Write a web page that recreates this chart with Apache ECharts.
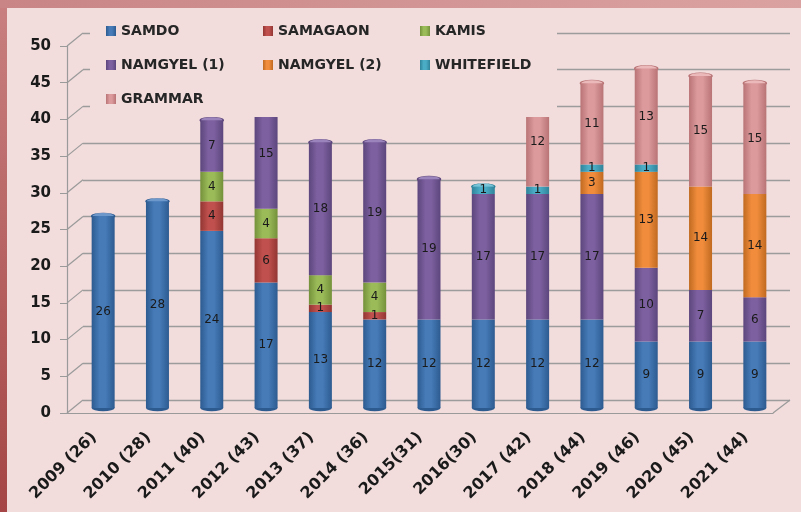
<!DOCTYPE html>
<html>
<head>
<meta charset="utf-8">
<script src="https://cdn.jsdelivr.net/npm/echarts@6/dist/echarts.min.js"></script>
<style>
html,body{margin:0;padding:0;}
#frame{position:absolute;left:0;top:0;width:801px;height:512px;
background:
 linear-gradient(#f2dcdc,#f2dcdc) 7px 8px / 794px 504px no-repeat,
 linear-gradient(to right,#c98585,#dba2a2) 0 0 / 801px 8px no-repeat,
 linear-gradient(to bottom,#c98080,#a54545) 0 0 / 7px 512px no-repeat;}
#chart{position:absolute;left:0;top:0;width:801px;height:512px;}
</style>
</head>
<body>
<div id="frame"></div>
<div id="chart"></div>
<script>
const categories = ['2009 (26)','2010 (28)','2011 (40)','2012 (43)','2013 (37)','2014 (36)','2015(31)','2016(30)','2017 (42)','2018 (44)','2019 (46)','2020 (45)','2021 (44)'];
const seriesNames = ['SAMDO','SAMAGAON','KAMIS','NAMGYEL (1)','NAMGYEL (2)','WHITEFIELD','GRAMMAR'];
const samdo      = [26,28,24,17,13,12,12,12,12,12, 9, 9, 9];
const samagaon   = [ 0, 0, 4, 6, 1, 1, 0, 0, 0, 0, 0, 0, 0];
const kamis      = [ 0, 0, 4, 4, 4, 4, 0, 0, 0, 0, 0, 0, 0];
const namgyel1   = [ 0, 0, 7,15,18,19,19,17,17,17,10, 7, 6];
const namgyel2   = [ 0, 0, 0, 0, 0, 0, 0, 0, 0, 3,13,14,14];
const whitefield = [ 0, 0, 0, 0, 0, 0, 0, 1, 1, 1, 1, 0, 0];
const grammar    = [ 0, 0, 0, 0, 0, 0, 0, 0,12,11,13,15,15];
const yTicks = [0,5,10,15,20,25,30,35,40,45,50];

const allData = [samdo,samagaon,kamis,namgyel1,namgyel2,whitefield,grammar];
const baseColors = ['#467bb8','#c0504d','#9bbb59','#7d60a0','#f08c3c','#4bacc6','#dc9a9c'];
const darkColors = ['#2d5b90','#923633','#74913a','#5c467c','#c06a20','#2f8399','#b87375'];
const lightColors = ['#6d98cc','#d57a77','#b4d07e','#9b84bb','#f8b07a','#78c4d8','#ebb9ba'];

function grad(i){
  return new echarts.graphic.LinearGradient(0,0,1,0,[
    {offset:0,color:darkColors[i]},
    {offset:0.35,color:baseColors[i]},
    {offset:0.6,color:baseColors[i]},
    {offset:1,color:darkColors[i]}
  ]);
}

const capData = categories.map((c,i)=>{
  let total=0, top=0;
  allData.forEach((arr,s)=>{ total+=arr[i]; if(arr[i]>0) top=s; });
  return [i,total,top];
});

const chart = echarts.init(document.getElementById('chart'), null, {renderer:'canvas'});
const fontB = 'DejaVu Sans';

const barSeries = seriesNames.map((name,s)=>({
  name:name, type:'bar', stack:'total', xAxisIndex:2, yAxisIndex:2,
  barWidth:23, data:allData[s],
  itemStyle:{color:grad(s)},
  label:{show:true, position:'inside', fontFamily:fontB, fontSize:12, color:'#1a1a1a',
    formatter:p=> p.value ? String(p.value) : ''},
  emphasis:{disabled:true}
}));

const option = {
  animation:false,
  backgroundColor:'transparent',
  legend:{
    data:seriesNames, left:90, top:14, width:455, z:10,
    padding:[10,0,11,16], backgroundColor:'#f2dcdc',
    icon:'rect', itemWidth:10, itemHeight:10, itemGap:20,
    textStyle:{fontFamily:fontB, fontWeight:'bold', fontSize:14, color:'#262626', width:122, lineHeight:14}
  },
  grid:[
    {left:67, right:28, top:46, bottom:99},
    {left:83, right:11, top:33, bottom:112},
    {left:76, right:19, top:39, bottom:104}
  ],
  xAxis:[
    {type:'category', gridIndex:0, data:categories,
     axisLine:{lineStyle:{color:'#9a9a9a',width:1.2}},
     axisTick:{length:6, lineStyle:{color:'#9a9a9a'}},
     axisLabel:{rotate:45, margin:22, fontFamily:fontB, fontWeight:'bold', fontSize:16, color:'#1a1a1a', interval:0}},
    {type:'category', gridIndex:1, data:categories, show:false},
    {type:'category', gridIndex:2, data:categories, show:false}
  ],
  yAxis:[
    {type:'value', gridIndex:0, min:0, max:50, interval:5,
     axisLine:{show:true, lineStyle:{color:'#9a9a9a',width:1.2}},
     axisTick:{show:true, length:7, lineStyle:{color:'#9a9a9a'}},
     splitLine:{show:false},
     axisLabel:{margin:16, fontFamily:fontB, fontWeight:'bold', fontSize:15, color:'#1a1a1a'}},
    {type:'value', gridIndex:1, min:0, max:50, interval:5,
     axisLine:{show:false}, axisTick:{show:false}, axisLabel:{show:false},
     splitLine:{show:true, lineStyle:{color:'#9c9c9c', width:1.4}}},
    {type:'value', gridIndex:2, min:0, max:50, interval:5, show:false, splitLine:{show:false}}
  ],
  series:[
    {type:'custom', xAxisIndex:0, yAxisIndex:0, silent:true, z:1,
     data:yTicks.map(v=>[0,v]),
     renderItem:(params,api)=>{
       const cs = params.coordSys;
       const y = api.coord([0, api.value(1)])[1];
       const st = {stroke:'#9a9a9a', lineWidth:1.2};
       const children = [{type:'line', shape:{x1:cs.x, y1:y, x2:cs.x+16, y2:y-13}, style:st}];
       if(api.value(1)===0){
         children.push({type:'line', shape:{x1:cs.x+cs.width, y1:y, x2:cs.x+cs.width+17, y2:y-13}, style:st});
       }
       return {type:'group', children:children};
     }},
    {type:'custom', xAxisIndex:2, yAxisIndex:2, silent:true, z:1,
     data:capData,
     renderItem:(params,api)=>{
       const p = api.coord([api.value(0), 0]);
       return {type:'circle', shape:{cx:0,cy:0,r:11.5}, x:p[0], y:p[1], scaleY:0.28,
         style:{fill:darkColors[0]}};
     }},
    ...barSeries,
    {type:'custom', xAxisIndex:2, yAxisIndex:2, silent:true, z:2,
     data:capData,
     renderItem:(params,api)=>{
       const p = api.coord([api.value(0), api.value(1)]);
       const t = api.value(2);
       return {type:'circle', shape:{cx:0,cy:0,r:11.5}, x:p[0], y:p[1], scaleY:0.28,
         style:{fill:lightColors[t], stroke:darkColors[t], lineWidth:1.5}};
     }}
  ]
};
chart.setOption(option);
</script>
</body>
</html>
